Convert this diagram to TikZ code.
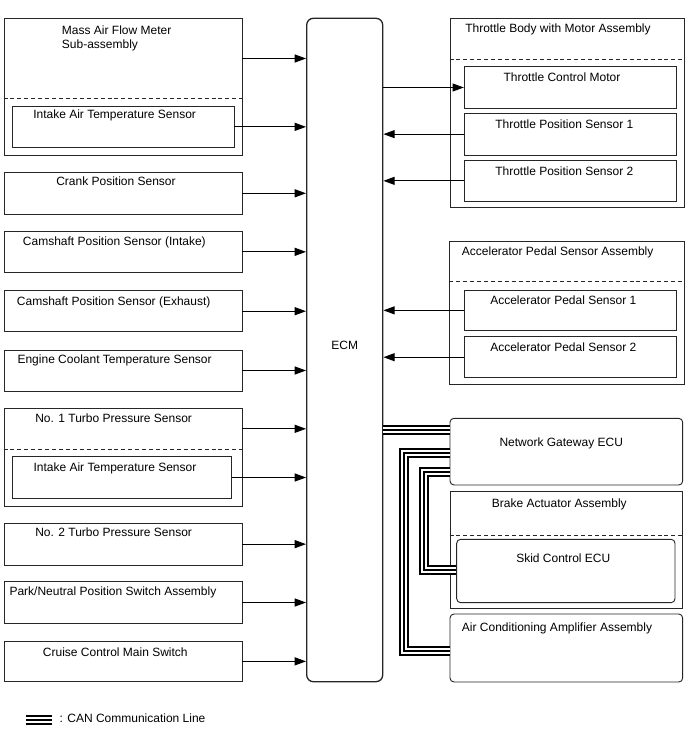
\documentclass[tikz,border=0pt]{standalone}
\usepackage{fontspec}
\setmainfont{Liberation Sans}
\usepackage{tikz}
\usetikzlibrary{arrows.meta,fit}

\begin{document}
\begin{tikzpicture}[
    x=0.75pt, y=-0.75pt,
    part/.style={rectangle, draw=black!85, line width=0.7pt, inner sep=0pt},
    ecu/.style={part, rounded corners=3pt},
    txt/.style={anchor=base west, inner sep=0pt, font=\fontsize{9}{10.5}\selectfont, align=left},
    sep/.style={draw=black!85, line width=0.7pt, dash pattern=on 3pt off 2.2pt},
    arr/.style={line width=0.9pt, -{Triangle[length=8.5pt,width=6pt]}},
    can/.style={line width=1.1pt, preaction={draw, line width=6.8pt}, preaction={draw, white, line width=4.5pt}}
]
\useasboundingbox (0,0) rectangle (688,755);

% ECM
\node[part, rounded corners=5pt, line width=1pt, font=\fontsize{9}{10.5}\selectfont,
      fit={(306.7,18.3) (382.7,681.7)}] (ecm) {ECM};

% Left column
\node[part, fit={(4,18.3) (242,155)}] (maf) {};
\draw[sep] (maf.west |- 0,98.7) -- (maf.east |- 0,98.7);
\node[txt] at (61.7,48.3) {Mass Air Flow Meter\\Sub-assembly};
\node[part, fit={(12,106) (234,147.7)}] (iat1) {};
\node[txt] at (33,119) {Intake Air Temperature Sensor};

\node[part, fit={(4,172.3) (242,214.3)}] (crank) {};
\node[txt] at (56,186) {Crank Position Sensor};

\node[part, fit={(4,231) (242,272.7)}] (camin) {};
\node[txt] at (22.7,245.3) {Camshaft Position Sensor (Intake)};

\node[part, fit={(4,290.7) (242,331.7)}] (camex) {};
\node[txt] at (16.7,305.3) {Camshaft Position Sensor (Exhaust)};

\node[part, fit={(4,350) (242,391)}] (ect) {};
\node[txt] at (17.3,363.3) {Engine Coolant Temperature Sensor};

\node[part, fit={(4,408.3) (242,506)}] (turbo1) {};
\draw[sep] (turbo1.west |- 0,449.3) -- (turbo1.east |- 0,449.3);
\node[txt] at (35,422.6) {No. 1 Turbo Pressure Sensor};
\node[part, fit={(12,456.7) (231.7,498.3)}] (iat2) {};
\node[txt] at (33.3,471) {Intake Air Temperature Sensor};

\node[part, fit={(4,523.3) (242,565)}] (turbo2) {};
\node[txt] at (35,536.6) {No. 2 Turbo Pressure Sensor};

\node[part, fit={(4,581.7) (242,623.3)}] (pnp) {};
\node[txt] at (9.3,595.3) {Park/Neutral Position Switch Assembly};

\node[part, fit={(4,641) (242,681.7)}] (cruise) {};
\node[txt] at (42.7,656) {Cruise Control Main Switch};

% Right column
\node[part, fit={(450,18.3) (684.5,207.3)}] (tbody) {};
\draw[sep] (tbody.west |- 0,59.3) -- (tbody.east |- 0,59.3);
\node[txt] at (465,32.6) {Throttle Body with Motor Assembly};
\node[part, fit={(464.3,66.7) (676.5,108.3)}] (tcm) {};
\node[txt] at (503.3,81.6) {Throttle Control Motor};
\node[part, fit={(464.3,113.3) (676.5,155)}] (tps1) {};
\node[txt] at (495,128.6) {Throttle Position Sensor 1};
\node[part, fit={(464.3,160) (676.5,201.7)}] (tps2) {};
\node[txt] at (495,176) {Throttle Position Sensor 2};

\node[part, fit={(449.7,241.7) (684,384)}] (apsa) {};
\draw[sep] (apsa.west |- 0,281.7) -- (apsa.east |- 0,281.7);
\node[txt] at (461.7,256) {Accelerator Pedal Sensor Assembly};
\node[part, fit={(464.3,290) (676,330.7)}] (aps1) {};
\node[txt] at (490,304.3) {Accelerator Pedal Sensor 1};
\node[part, fit={(464.3,336.7) (676,377.7)}] (aps2) {};
\node[txt] at (490,351) {Accelerator Pedal Sensor 2};

\node[ecu, fit={(450,418.3) (682.7,485)}] (ngw) {};
\node[txt] at (499.3,446) {Network Gateway ECU};

\node[part, fit={(450,491) (682.3,608.3)}] (brake) {};
\draw[sep] (brake.west |- 0,535.7) -- (brake.east |- 0,535.7);
\node[txt] at (491.7,507.6) {Brake Actuator Assembly};
\node[ecu, fit={(456.7,539.3) (675,602.7)}] (skid) {};
\node[txt] at (516,562.6) {Skid Control ECU};

\node[ecu, fit={(450,614) (682.7,682)}] (acamp) {};
\node[txt] at (461.7,631) {Air Conditioning Amplifier Assembly};

% Signal lines into / out of ECM
\draw[arr] (maf.east |- 0,58.5) -- (ecm.west |- 0,58.5);
\draw[arr] (iat1.east) -- (iat1.east -| ecm.west);
\draw[arr] (crank.east) -- (crank.east -| ecm.west);
\draw[arr] (camin.east) -- (camin.east -| ecm.west);
\draw[arr] (camex.east) -- (camex.east -| ecm.west);
\draw[arr] (ect.east) -- (ect.east -| ecm.west);
\draw[arr] (turbo1.east |- 0,428.8) -- (ecm.west |- 0,428.8);
\draw[arr] (iat2.east) -- (iat2.east -| ecm.west);
\draw[arr] (turbo2.east) -- (turbo2.east -| ecm.west);
\draw[arr] (pnp.east) -- (pnp.east -| ecm.west);
\draw[arr] (cruise.east) -- (cruise.east -| ecm.west);

\draw[arr] (tcm.west -| ecm.east) -- (tcm.west);
\draw[arr] (tps1.west) -- (tps1.west -| ecm.east);
\draw[arr] (tps2.west) -- (tps2.west -| ecm.east);
\draw[arr] (aps1.west) -- (aps1.west -| ecm.east);
\draw[arr] (aps2.west) -- (aps2.west -| ecm.east);

% CAN
\draw[can] (ecm.east |- 0,430) -- (ngw.west |- 0,430);
\draw[can] (ngw.west |- 0,453) -| (404,651) -- (acamp.west |- 0,651);
\draw[can] (ngw.west |- 0,472) -| (424,570) -- (skid.west |- 0,570);

% Legend
\coordinate (cankey) at (26,720);
\draw[can] (cankey) -- ++(26,0);
\node[txt] (legend) at (59.3,722.6) {: CAN Communication Line};

\end{tikzpicture}
\end{document}
